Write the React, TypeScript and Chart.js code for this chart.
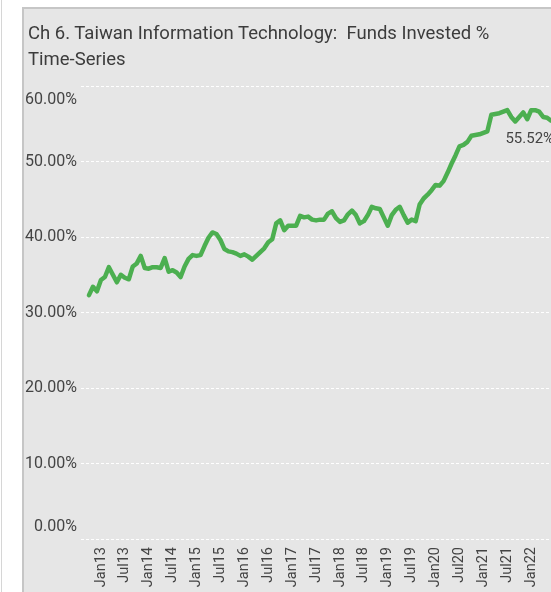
import React, { useEffect, useRef } from 'react';
import { Chart, registerables } from 'chart.js';

Chart.register(...registerables);

const TITLE_LINE_1 = 'Ch 6. Taiwan Information Technology:  Funds Invested %';
const TITLE_LINE_2 = 'Time-Series';

// first value is Oct 2012; month index 0 = Jan 2013
const FIRST_MONTH_OFFSET = -3;

const fundsInvested: number[] = [
  32.3, 33.4, 32.8,
  34.3, 34.7, 36.0, 35.0, 34.0, 35.0, 34.6, 34.4, 36.1, 36.5, 37.5, 35.9,
  35.8, 36.0, 36.0, 35.9, 37.2, 35.4, 35.6, 35.3, 34.7, 36.1, 37.1, 37.6,
  37.5, 37.6, 38.8, 39.9, 40.6, 40.4, 39.6, 38.4, 38.1, 38.0, 37.8, 37.5,
  37.7, 37.4, 37.0, 37.5, 38.0, 38.5, 39.3, 39.7, 41.8, 42.2, 40.9, 41.5,
  41.5, 41.5, 42.8, 42.6, 42.7, 42.3, 42.2, 42.3, 42.3, 43.1, 43.4, 42.5,
  42.0, 42.2, 43.0, 43.5, 42.9, 41.8, 42.1, 42.9, 44.0, 43.8, 43.7, 42.6,
  41.5, 42.9, 43.6, 44.0, 42.9, 41.9, 42.3, 42.1, 44.3, 45.1, 45.6, 46.2,
  46.9, 46.8, 47.4, 48.5, 49.7, 50.8, 52.0, 52.2, 52.6, 53.4, 53.5, 53.6,
  53.8, 54.0, 56.2, 56.3, 56.4, 56.6, 56.8, 55.9, 55.3, 55.9, 56.5, 55.6,
  56.8, 56.8, 56.6, 55.9, 55.8, 55.4, 55.52,
];

const xTickMonths: number[] = [0, 6, 12, 18, 24, 30, 36, 42, 48, 54, 60, 66, 72, 78, 84, 90, 96, 102, 108];
const xTickLabels: string[] = [
  'Jan13', 'Jul13', 'Jan14', 'Jul14', 'Jan15', 'Jul15', 'Jan16', 'Jul16', 'Jan17', 'Jul17',
  'Jan18', 'Jul18', 'Jan19', 'Jul19', 'Jan20', 'Jul20', 'Jan21', 'Jul21', 'Jan22',
];
const yTicks: number[] = [0, 10, 20, 30, 40, 50, 60];
const LAST_LABEL = '55.52%';

const FONT = 'Roboto';

const lastPointLabel = {
  id: 'lastPointLabel',
  afterDatasetsDraw(chart: any) {
    const meta = chart.getDatasetMeta(0);
    const pt = meta.data[meta.data.length - 1];
    if (!pt) return;
    const ctx = chart.ctx;
    ctx.save();
    ctx.font = `15px ${FONT}`;
    ctx.fillStyle = '#444444';
    ctx.textAlign = 'right';
    ctx.textBaseline = 'middle';
    ctx.fillText(LAST_LABEL, pt.x - 1, pt.y + 19);
    ctx.restore();
  },
};

export default function App() {
  const canvasRef = useRef<HTMLCanvasElement | null>(null);

  useEffect(() => {
    if (!canvasRef.current) return;
    const chart = new Chart(canvasRef.current, {
      type: 'line',
      data: {
        datasets: [
          {
            data: fundsInvested.map((v, i) => ({ x: i + FIRST_MONTH_OFFSET, y: v })),
            borderColor: '#4caf50',
            borderWidth: 4.5,
            pointRadius: 0,
            pointHoverRadius: 0,
            tension: 0,
            fill: false,
            borderJoinStyle: 'round',
            borderCapStyle: 'round',
          },
        ],
      },
      options: {
        responsive: false,
        animation: false,
        events: [],
        layout: { padding: { top: 77, left: 0, right: 0, bottom: 0 } },
        plugins: {
          legend: { display: false },
          title: { display: false },
          tooltip: { enabled: false },
        },
        scales: {
          x: {
            type: 'linear',
            min: -5,
            max: 120,
            grid: { display: false, drawTicks: false },
            border: { display: false },
            afterBuildTicks: (s: any) => {
              s.ticks = xTickMonths.map((v) => ({ value: v }));
            },
            afterFit: (s: any) => {
              s.height = 70;
            },
            ticks: {
              autoSkip: false,
              maxRotation: 90,
              minRotation: 90,
              padding: 8,
              color: '#444444',
              font: { family: FONT, size: 14.5 },
              callback: (v: any) => {
                const i = xTickMonths.indexOf(Number(v));
                return i >= 0 ? xTickLabels[i] : '';
              },
            },
          },
          y: {
            type: 'linear',
            min: 0,
            max: 60,
            afterBuildTicks: (s: any) => {
              s.ticks = yTicks.map((v) => ({ value: v }));
            },
            afterFit: (s: any) => {
              s.width = 57;
            },
            grid: { color: '#ffffff', lineWidth: 1, drawTicks: false },
            border: { display: false, dash: [3, 2] },
            ticks: {
              padding: 4,
              color: '#444444',
              font: (ctx: any) => ({
                family: FONT,
                size: 16,
                lineHeight: ctx.tick && ctx.tick.value === 0 ? 1.5 : 1.75,
              }),
              callback: (v: any) => {
                const n = Number(v);
                const s = n.toFixed(2) + '%';
                if (n === 60) return ['', s];
                if (n === 0) return [s, ''];
                return s;
              },
            },
          },
        },
      },
      plugins: [lastPointLabel],
    } as any);
    return () => chart.destroy();
  }, []);

  return (
    <div
      style={{
        position: 'fixed',
        left: 0,
        top: 0,
        width: 551,
        height: 592,
        overflow: 'hidden',
        background: '#ffffff',
      }}
    >
      <div style={{ position: 'absolute', left: 1, top: 0, width: 1, height: 592, background: '#d6d6d6' }} />
      <div
        style={{
          position: 'absolute',
          left: 22,
          top: 7,
          width: 700,
          height: 700,
          boxSizing: 'border-box',
          background: '#e6e6e6',
          borderLeft: '2px solid #c6c6c6',
          borderTop: '2px solid #c6c6c6',
        }}
      />
      <canvas
        ref={canvasRef}
        width={555}
        height={600}
        style={{ position: 'absolute', left: 24, top: 9, width: 555, height: 600 }}
      />
      <div
        style={{
          position: 'absolute',
          left: 28,
          top: 20,
          fontFamily: FONT,
          fontSize: '18.5px',
          lineHeight: '26px',
          color: '#3c3c3c',
          whiteSpace: 'pre',
        }}
      >
        <div>{TITLE_LINE_1}</div>
        <div>{TITLE_LINE_2}</div>
      </div>
    </div>
  );
}
